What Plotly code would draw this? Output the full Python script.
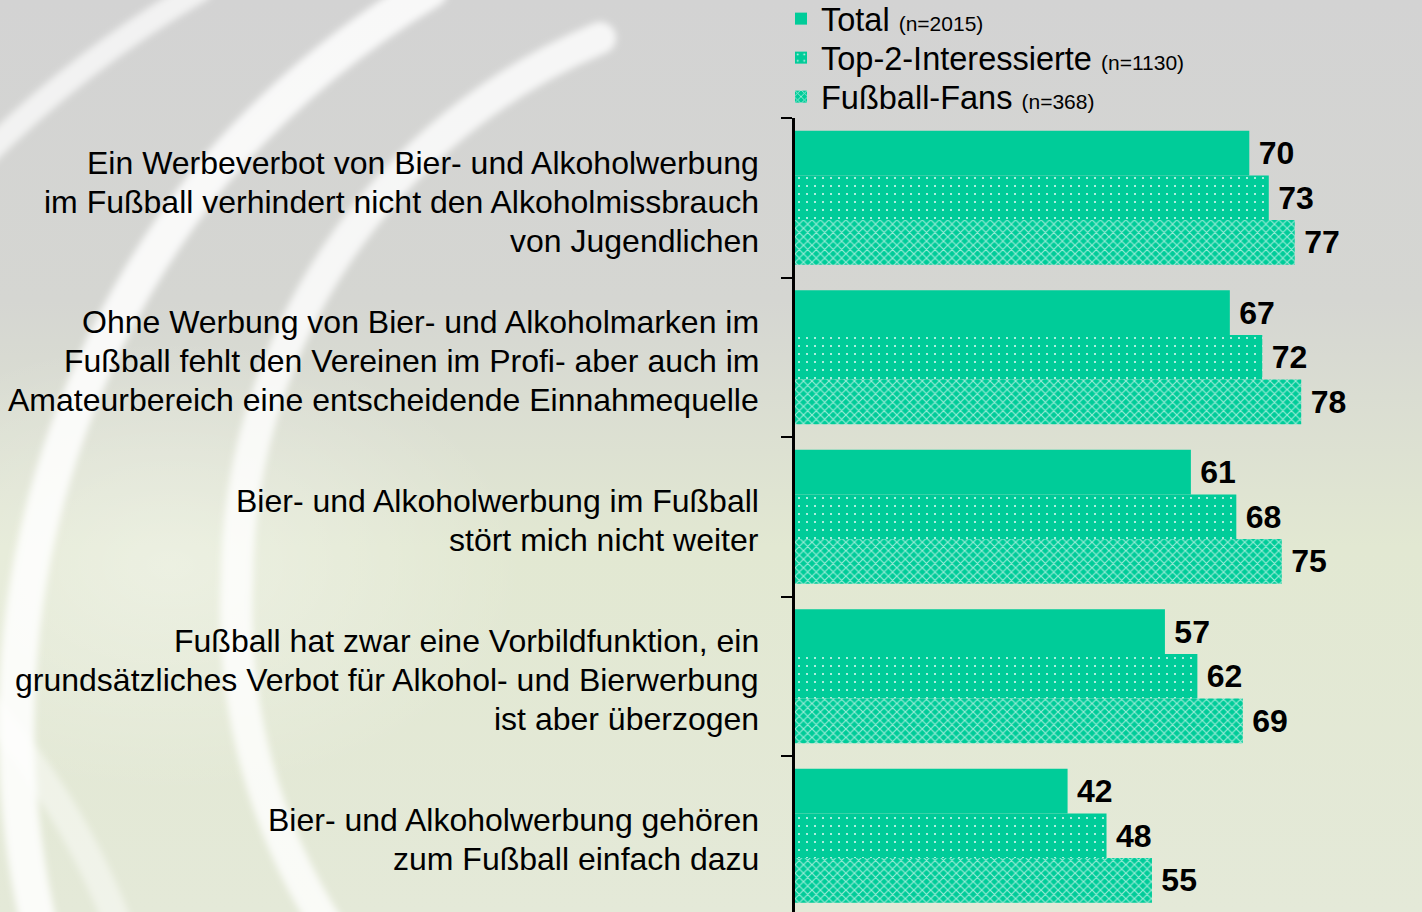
import base64
import plotly.graph_objects as go

# Survey statements (top to bottom), one list entry per printed line
statements = [
    ["Ein Werbeverbot von Bier- und Alkoholwerbung",
     "im Fußball verhindert nicht den Alkoholmissbrauch",
     "von Jugendlichen"],
    ["Ohne Werbung von Bier- und Alkoholmarken im",
     "Fußball fehlt den Vereinen im Profi- aber auch im",
     "Amateurbereich eine entscheidende Einnahmequelle"],
    ["Bier- und Alkoholwerbung im Fußball",
     "stört mich nicht weiter"],
    ["Fußball hat zwar eine Vorbildfunktion, ein",
     "grundsätzliches Verbot für Alkohol- und Bierwerbung",
     "ist aber überzogen"],
    ["Bier- und Alkoholwerbung gehören",
     "zum Fußball einfach dazu"],
]
categories = ["S1", "S2", "S3", "S4", "S5"]

# Agreement in percent per group
total = [70, 67, 61, 57, 42]
top2 = [73, 72, 68, 62, 48]
fans = [77, 78, 75, 69, 55]

group_names = ["Total", "Top-2-Interessierte", "Fußball-Fans"]
group_sizes = ["(n=2015)", "(n=1130)", "(n=368)"]

W, H = 1422, 912
PLOT_LEFT = 795
PLOT_TOP = 118
CAT_STEP = 159.5          # pixel height of one statement row
LINE_STEP = 39            # pixel spacing of label lines
GREEN = "#00CC99"
FONT = "Liberation Sans, Arial, sans-serif"

# Soft background: grey-to-pale-green gradient with white swoosh arcs
svg = f"""<svg xmlns='http://www.w3.org/2000/svg' width='{W}' height='{H}' viewBox='0 0 {W} {H}'>
<defs>
<linearGradient id='g' x1='0' y1='0' x2='0' y2='1'>
<stop offset='0' stop-color='#d3d3d3'/>
<stop offset='0.33' stop-color='#d5d6d2'/>
<stop offset='0.6' stop-color='#e2e8d2'/>
<stop offset='1' stop-color='#e4e9d8'/>
</linearGradient>
<radialGradient id='glow' cx='0.12' cy='0.62' r='0.25'>
<stop offset='0' stop-color='#ffffff' stop-opacity='0.35'/>
<stop offset='1' stop-color='#ffffff' stop-opacity='0'/>
</radialGradient>
<filter id='b' x='-20%' y='-20%' width='140%' height='140%'><feGaussianBlur stdDeviation='3.5'/></filter>
</defs>
<rect width='{W}' height='{H}' fill='url(#g)'/>
<rect width='{W}' height='{H}' fill='url(#glow)'/>
<g fill='none' stroke='#ffffff' filter='url(#b)' stroke-linecap='round'>
<path d='M 200 -10 A 1060 1060 0 0 0 -20 160' stroke-width='24' stroke-opacity='0.7'/>
<path d='M 430 -10 A 880 880 0 0 0 212 174 A 880 880 0 0 0 40 930' stroke-width='36' stroke-opacity='0.85'/>
<path d='M 600 38 A 590 590 0 0 0 237 581 A 590 590 0 0 0 330 930' stroke-width='32' stroke-opacity='0.8'/>
<path d='M -20 700 A 700 700 0 0 1 120 930' stroke-width='28' stroke-opacity='0.45'/>
</g>
</svg>"""
bg_uri = "data:image/svg+xml;base64," + base64.b64encode(svg.encode("utf-8")).decode("ascii")

fig = go.Figure()

patterns = [
    None,
    dict(shape=".", bgcolor=GREEN, fgcolor="#ffffff", fgopacity=0.9, size=8, solidity=0.05),
    dict(shape="x", bgcolor=GREEN, fgcolor="#ffffff", fgopacity=0.6, size=6, solidity=0.35),
]
legend_ids = ["legend", "legend2", "legend3"]

for name, size_txt, vals, pat, lg in zip(group_names, group_sizes, [total, top2, fans], patterns, legend_ids):
    marker = dict(color=GREEN, line=dict(width=0))
    if pat:
        marker["pattern"] = pat
    fig.add_trace(go.Bar(
        y=categories,
        x=vals,
        name=f"{name} <span style='font-size:21px'>{size_txt}</span>",
        legend=lg,
        orientation="h",
        marker=marker,
        text=[str(v) for v in vals],
        texttemplate="\u2009%{text}",
        textposition="outside",
        constraintext="none",
        cliponaxis=False,
        textfont=dict(family=FONT, size=32, color="#000000", weight="bold"),
        hoverinfo="skip",
    ))

# Statement labels, right-aligned left of the axis, one annotation per line
for cat, lines in zip(categories, statements):
    n = len(lines)
    for i, line in enumerate(lines):
        fig.add_annotation(
            x=761 / W, xref="paper", xanchor="right",
            y=cat, yref="y", yanchor="middle",
            yshift=-(i - (n - 1) / 2) * LINE_STEP - 4,
            text=line, align="right", showarrow=False,
            font=dict(family=FONT, size=32, color="#000000"),
        )

legend_common = dict(
    x=781 / W, xanchor="left", yanchor="top",
    bgcolor="rgba(0,0,0,0)", borderwidth=0,
    font=dict(family=FONT, size=32.5, color="#000000"),
)
legend_rows = [20, 59, 98]   # pixel centres of the legend rows
ROW_OFFSET = 29

fig.update_layout(
    width=W, height=H,
    margin=dict(l=0, r=0, t=0, b=0, autoexpand=False),
    paper_bgcolor="#d6d6d6",
    plot_bgcolor="#808080",
    barmode="group",
    bargap=0.16,
    bargroupgap=0,
    font=dict(family=FONT, color="#000000"),
    showlegend=True,
    legend=dict(legend_common, y=1 - (legend_rows[0] - ROW_OFFSET) / H),
    legend2=dict(legend_common, y=1 - (legend_rows[1] - ROW_OFFSET) / H),
    legend3=dict(legend_common, y=1 - (legend_rows[2] - ROW_OFFSET) / H),
    images=[dict(
        source=bg_uri, xref="paper", yref="paper",
        x=0, y=1, sizex=1, sizey=1, sizing="stretch",
        xanchor="left", yanchor="top", layer="below",
    )],
    xaxis=dict(
        domain=[PLOT_LEFT / W, 1],
        range=[0, (W - PLOT_LEFT) / 6.49],
        showticklabels=False, showgrid=False, zeroline=False,
        ticks="", showline=False,
    ),
    yaxis=dict(
        domain=[0, (H - PLOT_TOP) / H],
        categoryorder="array", categoryarray=categories,
        range=[(H - PLOT_TOP) / CAT_STEP - 0.5, -0.5],
        showticklabels=False, showgrid=False, zeroline=False,
        showline=True, linecolor="#000000", linewidth=3,
        ticks="outside", ticklen=11, tickwidth=2, tickcolor="#000000",
        tickson="boundaries",
    ),
)

fig.write_html("out.html")
